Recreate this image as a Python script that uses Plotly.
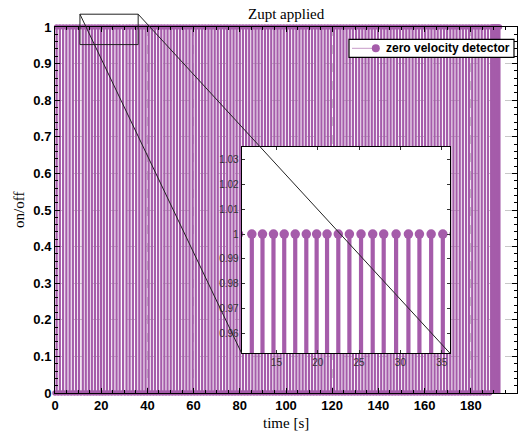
import plotly.graph_objects as go

# ---- data ----
# times [s] at which the zero-velocity detector is "on" (value 1)
on_times = [
    0.70, 2.10, 3.51, 4.92, 6.33, 7.73, 9.10, 10.42, 12.03, 13.32,
    14.65, 15.95, 17.28, 18.62, 19.87, 21.13, 22.49, 23.83, 25.24, 26.65,
    27.98, 29.48, 30.97, 32.30, 33.72, 35.13, 36.49, 37.83, 39.21, 40.56,
    41.93, 43.26, 44.62, 46.01, 47.35, 48.73, 50.09, 51.43, 52.81, 54.16,
    55.53, 56.86, 58.22, 59.61, 60.95, 62.33, 63.69, 65.03, 66.41, 67.76,
    69.13, 70.46, 71.82, 73.21, 74.55, 75.93, 77.29, 78.63, 80.01, 81.36,
    82.73, 84.06, 85.42, 86.81, 88.15, 89.53, 90.89, 92.23, 93.61, 94.96,
    96.33, 97.66, 99.02, 100.41, 101.75, 103.13, 104.49, 105.83, 107.21, 108.56,
    109.93, 111.26, 112.62, 114.01, 115.35, 116.73, 118.09, 119.43, 120.81, 122.16,
    123.53, 124.86, 126.22, 127.61, 128.95, 130.33, 131.69, 133.03, 134.41, 135.76,
    137.13, 138.46, 139.82, 141.21, 142.55, 143.93, 145.29, 146.63, 148.01, 149.36,
    150.73, 152.06, 153.42, 154.81, 156.15, 157.53, 158.89, 160.23, 161.61, 162.96,
    164.33, 165.66, 167.02, 168.41, 169.75, 171.13, 172.49, 173.83, 175.21, 176.56,
    177.93, 179.26, 180.62, 182.01, 183.35, 184.73, 186.09, 187.43, 188.81, 189.40,
    189.90, 190.40, 190.90, 191.40, 191.90, 192.40,
]
on_values = [1] * len(on_times)

# times [s] at which the detector is "off" (value 0)
off_times = [
    0.00, 1.40, 2.81, 4.22, 5.63, 7.03, 8.42, 9.76, 11.23, 12.68,
    13.99, 15.30, 16.62, 17.95, 19.25, 20.50, 21.81, 23.16, 24.54, 25.95,
    27.32, 28.73, 30.23, 31.64, 33.01, 34.43, 35.81, 37.16, 38.52, 39.89,
    41.25, 42.60, 43.94, 45.32, 46.68, 48.04, 49.41, 50.76, 52.12, 53.49,
    54.85, 56.20, 57.54, 58.92, 60.28, 61.64, 63.01, 64.36, 65.72, 67.09,
    68.45, 69.80, 71.14, 72.52, 73.88, 75.24, 76.61, 77.96, 79.32, 80.69,
    82.05, 83.40, 84.74, 86.12, 87.48, 88.84, 90.21, 91.56, 92.92, 94.29,
    95.65, 97.00, 98.34, 99.72, 101.08, 102.44, 103.81, 105.16, 106.52, 107.89,
    109.25, 110.60, 111.94, 113.32, 114.68, 116.04, 117.41, 118.76, 120.12, 121.49,
    122.85, 124.20, 125.54, 126.92, 128.28, 129.64, 131.01, 132.36, 133.72, 135.09,
    136.45, 137.80, 139.14, 140.52, 141.88, 143.24, 144.61, 145.96, 147.32, 148.69,
    150.05, 151.40, 152.74, 154.12, 155.48, 156.84, 158.21, 159.56, 160.92, 162.29,
    163.65, 165.00, 166.34, 167.72, 169.08, 170.44, 171.81, 173.16, 174.52, 175.89,
    177.25, 178.60, 179.94, 181.32, 182.68, 184.04, 185.41, 186.76, 188.12,
]
off_values = [0] * len(off_times)

x_range = [0, 200]
y_range = [0, 1]
inset_x_range = [10.8, 36.0]
inset_y_range = [0.952, 1.035]

title_text = "Zupt applied"
x_label = "time [s]"
y_label = "on/off"
legend_label = "zero velocity detector"

# ---- styling ----
PURPLE = "#A55CAA"
main_dom_x = [0.0, 1.0]
main_dom_y = [0.0, 1.0]
inset_dom_x = [0.404, 0.855]
inset_dom_y = [0.1085, 0.672]
legend_box = dict(x0=0.6364, x1=0.9935, y0=0.9172, y1=0.9664)


def stem_xy(ts, vals):
    xs, ys = [], []
    for t, v in zip(ts, vals):
        xs += [t, t, None]
        ys += [0, v, None]
    return xs, ys


sx, sy = stem_xy(on_times, on_values)

fig = go.Figure()
# main axes
fig.add_trace(go.Scatter(x=sx, y=sy, mode="lines", line=dict(color=PURPLE, width=2.2),
                         xaxis="x", yaxis="y", showlegend=False, hoverinfo="skip"))
fig.add_trace(go.Scatter(x=on_times, y=on_values, mode="markers",
                         marker=dict(color=PURPLE, size=5.5, line=dict(width=0)),
                         cliponaxis=False, xaxis="x", yaxis="y", showlegend=False, hoverinfo="skip"))
fig.add_trace(go.Scatter(x=off_times, y=off_values, mode="markers",
                         marker=dict(color=PURPLE, size=5.5, line=dict(width=0)),
                         cliponaxis=False, xaxis="x", yaxis="y", showlegend=False, hoverinfo="skip"))
# inset axes
fig.add_trace(go.Scatter(x=sx, y=sy, mode="lines", line=dict(color=PURPLE, width=4.2),
                         xaxis="x2", yaxis="y2", showlegend=False, hoverinfo="skip"))
fig.add_trace(go.Scatter(x=on_times, y=on_values, mode="markers",
                         marker=dict(color=PURPLE, size=9.5, line=dict(width=0)),
                         xaxis="x2", yaxis="y2", showlegend=False, hoverinfo="skip"))

tickfont_main = dict(family="Arial", size=13, color="black", weight="bold")
common_main = dict(showline=True, linecolor="black", linewidth=1, mirror="ticks",
                   ticks="inside", ticklen=5, tickcolor="black", tickwidth=1,
                   showgrid=True, gridcolor="#c8c8c8", griddash="dash", gridwidth=1,
                   zeroline=False, tickfont=tickfont_main)

fig.update_layout(
    width=526, height=432,
    margin=dict(l=55, r=9, t=27, b=39),
    paper_bgcolor="white", plot_bgcolor="white",
    font=dict(family="Arial", color="black"),
    showlegend=False,
    xaxis=dict(domain=main_dom_x, range=x_range, dtick=20, tick0=0, anchor="y",
               minor=dict(dtick=5, ticks="inside", ticklen=3, tickcolor="black", showgrid=False),
               **common_main),
    yaxis=dict(domain=main_dom_y, range=y_range, dtick=0.1, tick0=0, anchor="x",
               minor=dict(dtick=0.02, ticks="inside", ticklen=3, tickcolor="black", showgrid=False),
               **common_main),
    xaxis2=dict(domain=inset_dom_x, range=inset_x_range, dtick=5, tick0=0, anchor="y2",
                showline=True, linecolor="black", linewidth=1, mirror="ticks",
                ticks="inside", ticklen=3, tickcolor="#333333", showgrid=False, zeroline=False,
                tickfont=dict(family="Arial", size=10, color="#333333")),
    yaxis2=dict(domain=inset_dom_y, range=inset_y_range, dtick=0.01, tick0=0, anchor="x2",
                showline=True, linecolor="black", linewidth=1, mirror="ticks",
                ticks="inside", ticklen=3, tickcolor="#333333", showgrid=False, zeroline=False,
                tickfont=dict(family="Arial", size=10, color="#333333")),
)


def to_paper_x(v):
    return main_dom_x[0] + (v - x_range[0]) / (x_range[1] - x_range[0]) * (main_dom_x[1] - main_dom_x[0])


def to_paper_y(v):
    return main_dom_y[0] + (v - y_range[0]) / (y_range[1] - y_range[0]) * (main_dom_y[1] - main_dom_y[0])


lb = legend_box
leg_mid_y = (lb["y0"] + lb["y1"]) / 2
leg_line_x0 = lb["x0"] + 0.0065
leg_line_x1 = lb["x0"] + 0.060
leg_marker_x = lb["x0"] + 0.058

shapes = [
    # white background of the inset, drawn above the main stems
    dict(type="rect", xref="x2", yref="y2", x0=inset_x_range[0], x1=inset_x_range[1],
         y0=inset_y_range[0], y1=inset_y_range[1], fillcolor="white",
         line=dict(width=0), layer="below"),
    # zoom rectangle in the main axes (paper coords so it is not clipped)
    dict(type="rect", xref="paper", yref="paper",
         x0=to_paper_x(inset_x_range[0]), x1=to_paper_x(inset_x_range[1]),
         y0=to_paper_y(inset_y_range[0]), y1=to_paper_y(inset_y_range[1]),
         line=dict(color="#222222", width=1), layer="above"),
    # connector lines
    dict(type="line", xref="paper", yref="paper",
         x0=to_paper_x(inset_x_range[0]), y0=to_paper_y(inset_y_range[1]),
         x1=inset_dom_x[0], y1=inset_dom_y[0], line=dict(color="#222222", width=1), layer="above"),
    dict(type="line", xref="paper", yref="paper",
         x0=to_paper_x(inset_x_range[1]), y0=to_paper_y(inset_y_range[1]),
         x1=inset_dom_x[1], y1=inset_dom_y[0], line=dict(color="#222222", width=1), layer="above"),
    # legend box
    dict(type="rect", xref="paper", yref="paper", x0=lb["x0"], x1=lb["x1"], y0=lb["y0"], y1=lb["y1"],
         fillcolor="white", line=dict(color="black", width=1.2), layer="above"),
    dict(type="line", xref="paper", yref="paper", x0=leg_line_x0, x1=leg_line_x1,
         y0=leg_mid_y, y1=leg_mid_y, line=dict(color="#C79AC9", width=1), layer="above"),
    dict(type="circle", xref="paper", yref="paper", xsizemode="pixel", ysizemode="pixel",
         xanchor=leg_marker_x, yanchor=leg_mid_y, x0=-4, x1=4, y0=-4, y1=4,
         fillcolor=PURPLE, line=dict(width=0), layer="above"),
]
fig.update_layout(shapes=shapes)

serif = dict(family="Liberation Serif", size=15, color="black")
fig.update_layout(annotations=[
    dict(text=title_text, xref="paper", yref="paper", x=0.5, y=1.035,
         xanchor="center", yanchor="middle", showarrow=False, font=serif),
    dict(text=x_label, xref="paper", yref="paper", x=0.5, y=-0.082,
         xanchor="center", yanchor="middle", showarrow=False, font=serif),
    dict(text=y_label, xref="paper", yref="paper", x=-0.078, y=0.5, textangle=-90,
         xanchor="center", yanchor="middle", showarrow=False, font=serif),
    dict(text=legend_label, xref="paper", yref="paper", x=lb["x0"] + 0.0755, y=leg_mid_y,
         xanchor="left", yanchor="middle", showarrow=False,
         font=dict(family="Arial", size=12, color="black", weight="bold")),
])

fig.write_html("out.html")
